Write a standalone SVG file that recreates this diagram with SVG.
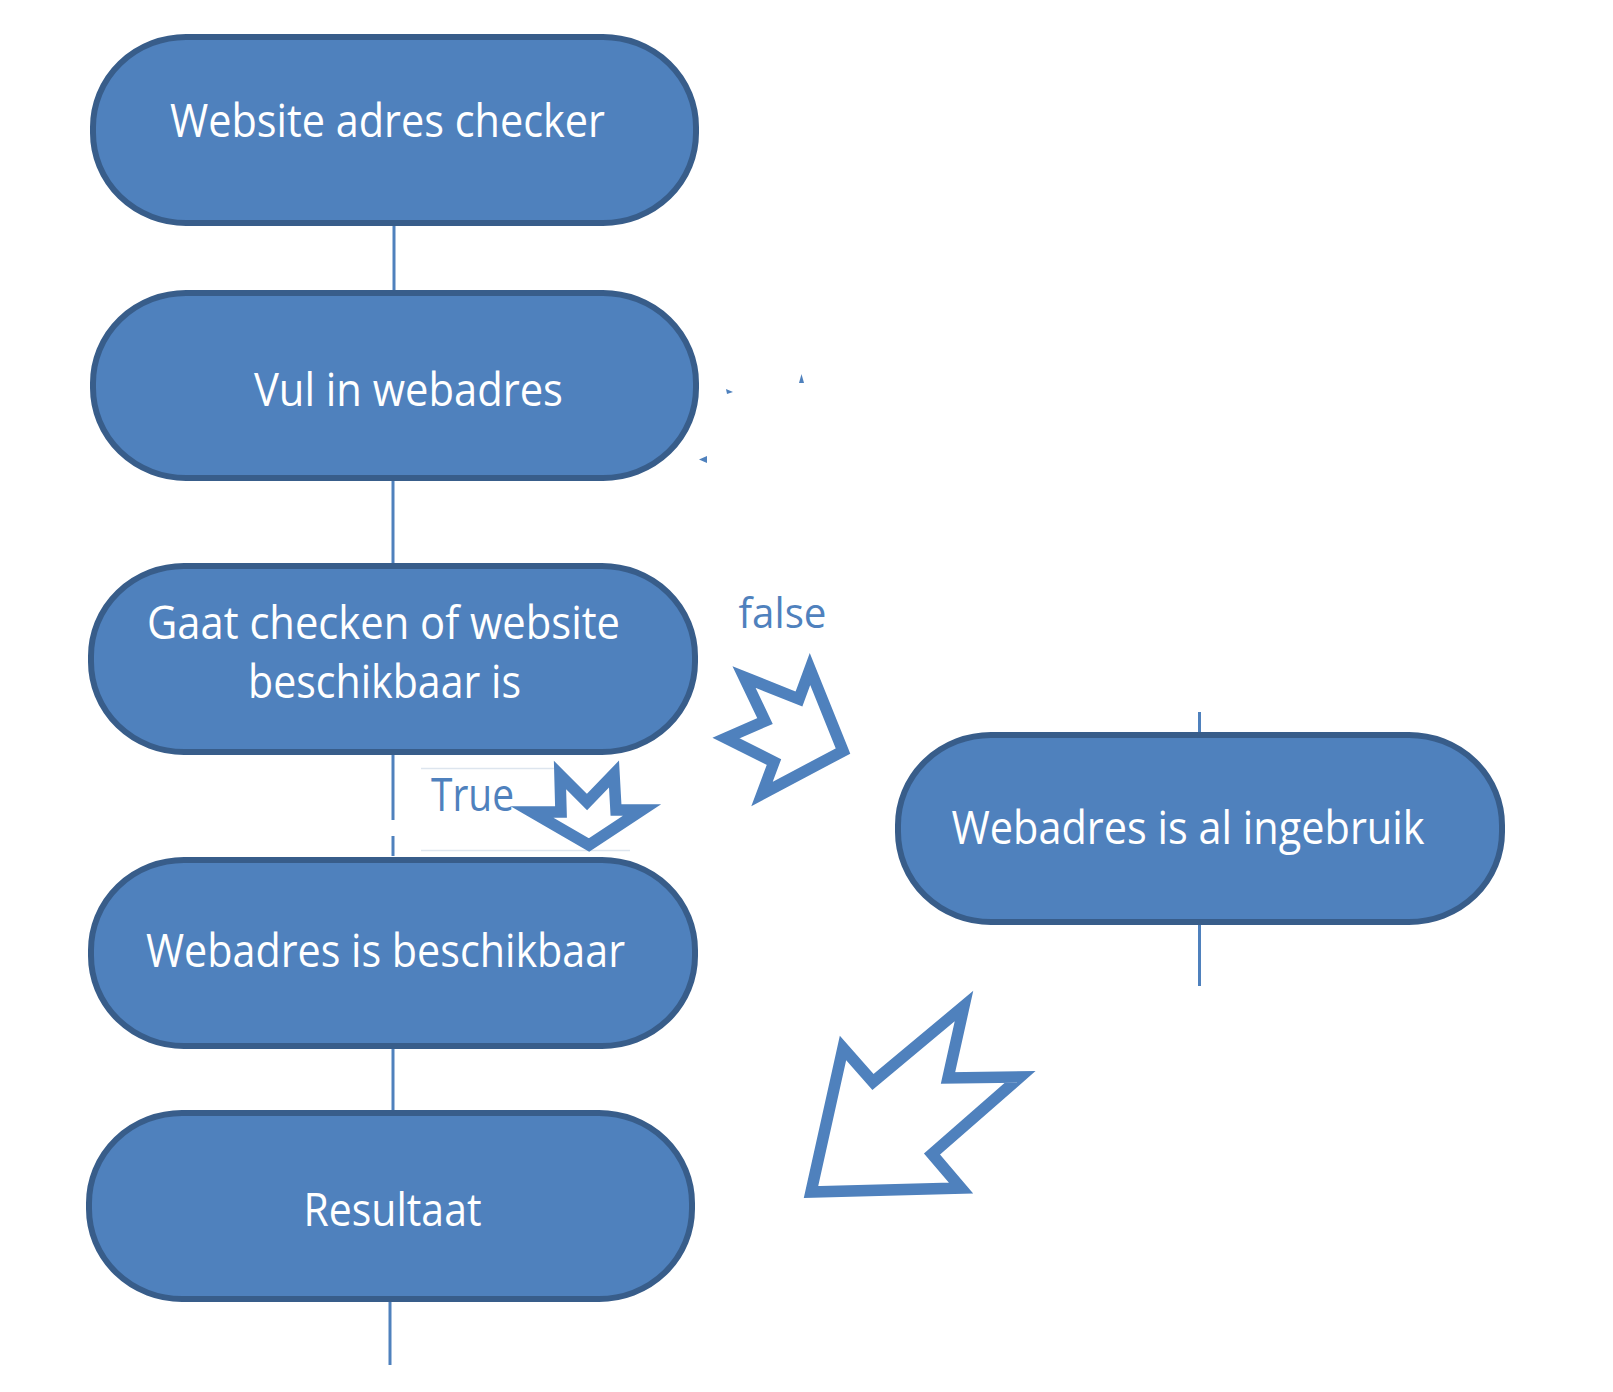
<svg xmlns="http://www.w3.org/2000/svg" width="1613" height="1392" viewBox="0 0 1613 1392">
<style>
.node{fill:#4f81bd;stroke:#385d8a;stroke-width:6}
.t{font-family:"Open Sans","Liberation Sans",sans-serif;font-size:45px;fill:#ffffff}
.lbl{font-family:"Open Sans","Liberation Sans",sans-serif;fill:#4f81bd}
.con{stroke:#4f81bd;stroke-width:3;fill:none}
.arr{fill:#ffffff;stroke:#4f81bd;stroke-width:11.5;stroke-linejoin:miter;stroke-miterlimit:10}
.mk{fill:#4f81bd}
.box{stroke:#dde5ee;stroke-width:1.5}
</style>
<rect width="1613" height="1392" fill="#ffffff"/>
<g id="connectors">
<line class="con" x1="394" y1="223" x2="394" y2="290"/>
<line class="con" x1="393" y1="478" x2="393" y2="563"/>
<line class="con" x1="393" y1="752" x2="393" y2="820"/>
<line class="con" x1="393" y1="836" x2="393" y2="856"/>
<line class="con" x1="393" y1="1046" x2="393" y2="1110"/>
<line class="con" x1="390" y1="1299" x2="390" y2="1365"/>
<line class="con" x1="1199.5" y1="712" x2="1199.5" y2="733"/>
<line class="con" x1="1199.5" y1="922" x2="1199.5" y2="986"/>
<polygon class="mk" points="799,383 804,383 801.5,374"/>
<polygon class="mk" points="726,389 733,392 727,394"/>
<polygon class="mk" points="699,459.5 707,456 707,463"/>
</g>
<g id="node1">
<rect class="node" x="93" y="37" width="603" height="186" rx="93" ry="90"/>
<text class="t" x="170" y="137" textLength="435" lengthAdjust="spacingAndGlyphs">Website adres checker</text>
</g>
<g id="node2">
<rect class="node" x="93" y="293" width="603" height="185" rx="93" ry="90"/>
<text class="t" x="254" y="406" textLength="309" lengthAdjust="spacingAndGlyphs">Vul in webadres</text>
</g>
<g id="node3">
<rect class="node" x="91" y="566" width="604" height="186" rx="93" ry="90"/>
<text class="t" x="147" y="639" textLength="473" lengthAdjust="spacingAndGlyphs">Gaat checken of website</text>
<text class="t" x="248" y="698" textLength="273" lengthAdjust="spacingAndGlyphs">beschikbaar is</text>
</g>
<g id="node4">
<rect class="node" x="91" y="860" width="604" height="186" rx="93" ry="90"/>
<text class="t" x="146" y="967" textLength="479" lengthAdjust="spacingAndGlyphs">Webadres is beschikbaar</text>
</g>
<g id="node5">
<rect class="node" x="89" y="1113" width="603" height="186" rx="93" ry="90"/>
<text class="t" x="303.5" y="1226" textLength="178" lengthAdjust="spacingAndGlyphs">Resultaat</text>
</g>
<g id="node6">
<rect class="node" x="898" y="735" width="604" height="187" rx="93" ry="90"/>
<text class="t" x="951.5" y="844" textLength="473" lengthAdjust="spacingAndGlyphs">Webadres is al ingebruik</text>
</g>
<g id="label-false">
<text class="lbl" x="738.5" y="627.5" font-size="42" textLength="88" lengthAdjust="spacingAndGlyphs">false</text>
<polygon class="arr" points="843,751 810,669 799,699 744,677 765,721 726,738 774,762 762,794"/>
</g>
<g id="label-true">
<line class="box" x1="421" y1="768.5" x2="556" y2="768.5"/>
<line class="box" x1="421" y1="850.5" x2="630" y2="850.5"/>
<text class="lbl" x="431" y="811" font-size="45" textLength="83" lengthAdjust="spacingAndGlyphs">True</text>
<polygon class="arr" points="560,775 587,802 614,774 616,810 642,810 589,845 532,812 561,812"/>
</g>
<g id="big-arrow">
<polygon class="arr" points="811,1192 843,1048 873,1082 964,1006 948,1078 1020,1077 932,1154 961,1188"/>
</g>
</svg>
